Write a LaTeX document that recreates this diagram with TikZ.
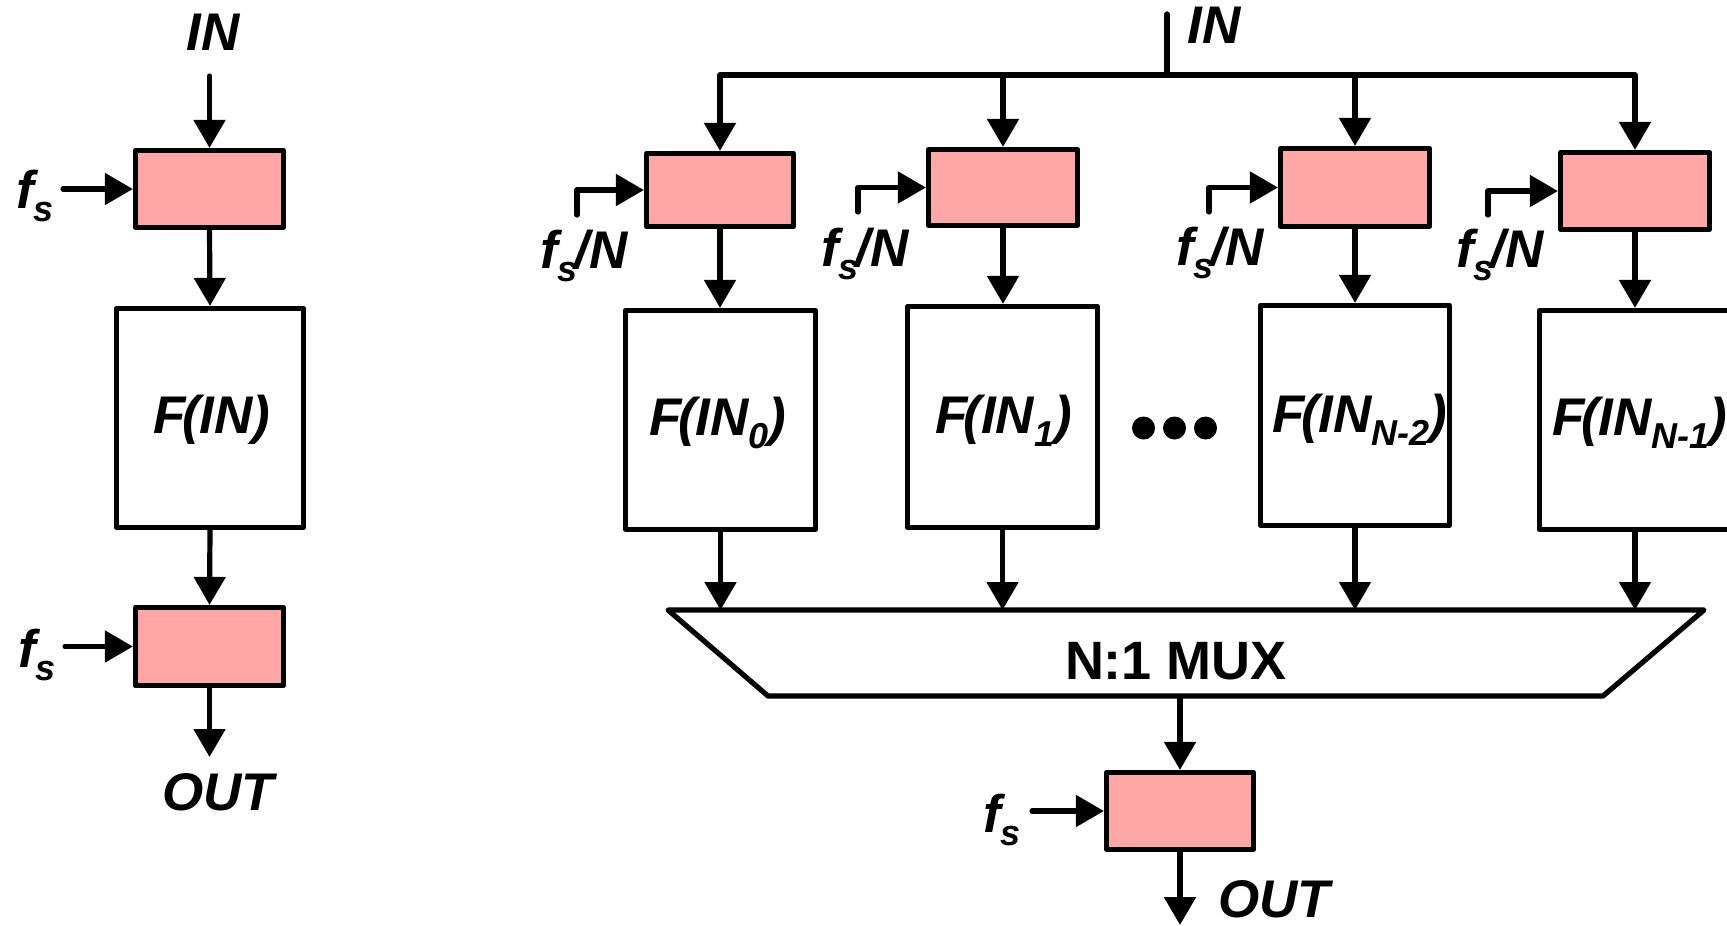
\documentclass[tikz,border=0pt]{standalone}
\usepackage{fontspec}
\setmainfont{Liberation Sans}
\usetikzlibrary{arrows.meta}
\definecolor{regpink}{RGB}{255,166,166}
\newcommand{\lowsub}[1]{{\fontsize{36}{36}\selectfont\raisebox{-13pt}{#1}}}
\begin{document}
\begin{tikzpicture}[x=1pt,y=-1pt,
  wire/.style={line width=5.2pt, line join=round, -{Triangle[length=28pt,width=31pt]}},
  plain/.style={line width=5.2pt, line cap=round, line join=round},
  reg/.style={draw, line width=5.2pt, fill=regpink, line join=round, inner sep=0pt},
  fbox/.style={draw, line width=5.2pt, fill=white, line join=round, inner sep=0pt},
  lbl/.style={inner sep=0pt, font=\fontsize{53}{60}\selectfont\bfseries\itshape},
]
\useasboundingbox (0,0) rectangle (1727,926);
% ---------- left: single path ----------
\node[reg, minimum width=148pt, minimum height=77pt] (rl1) at (209.5,189) {};
\node[fbox, minimum width=187.5pt, minimum height=219pt] (fl) at (210,418) {};
\node[reg, minimum width=148pt, minimum height=78pt] (rl2) at (209.5,646.5) {};
\node[lbl, anchor=base] (inL) at (213,50) {IN};
\coordinate (inLs) at (209.5,76);
\coordinate (fsl1) at (63,189);
\coordinate (fsl2) at (65,646.5);
\coordinate (outLe) at (209.5,757);
\node[lbl, anchor=base] (tfl) at (212,433) {F\kern-4pt(IN)};
\node[lbl, anchor=base west] (fsL1) at (16,208) {f\lowsub{s}};
\node[lbl, anchor=base west] (fsL2) at (18,667) {f\lowsub{s}};
\node[lbl, anchor=base] (outL) at (218,810) {OUT};
\draw[wire, line cap=round] (inLs) -- (rl1.north);
\draw[wire, line cap=round] (fsl1) -- (rl1.west);
\draw[wire] (rl1.south) -- (fl.north);
\draw[wire] (fl.south) -- (rl2.north);
\draw[wire, line cap=round] (fsl2) -- (rl2.west);
\draw[wire] (rl2.south) -- (outLe);
% ---------- right: parallel paths ----------
\node[reg, minimum width=147pt, minimum height=73pt] (r0) at (720,190) {};
\node[reg, minimum width=149pt, minimum height=76pt] (r1) at (1003,187.5) {};
\node[reg, minimum width=149pt, minimum height=78pt] (r2) at (1355,187.5) {};
\node[reg, minimum width=149pt, minimum height=77pt] (r3) at (1635,191) {};
\node[fbox, minimum width=190pt, minimum height=219pt] (f0) at (720.5,420) {};
\node[fbox, minimum width=190pt, minimum height=221pt] (f1) at (1002.5,417) {};
\node[fbox, minimum width=189pt, minimum height=220pt] (f2) at (1355,415.5) {};
\node[fbox, minimum width=191pt, minimum height=219pt] (f3) at (1635,420) {};
\node[reg, minimum width=147pt, minimum height=77pt] (rout) at (1180,811) {};
% IN bus
\coordinate (inTop) at (1167,14);
\coordinate (inJ) at (1167,75);
\node[lbl, anchor=base] (inR) at (1214,43) {IN};
\draw[plain] (inTop) -- (inJ);
\draw[wire] (inJ) -| (r0.north);
\draw[wire] (inJ) -| (r3.north);
\draw[wire] (r1.north |- inJ) -- (r1.north);
\draw[wire] (r2.north |- inJ) -- (r2.north);
% clocks fs/N
\coordinate (c0) at (577,215);
\coordinate (c1) at (858,212);
\coordinate (c2) at (1209,212);
\coordinate (c3) at (1488,215);
\draw[wire, line cap=round] (c0) |- (r0.west);
\draw[wire, line cap=round] (c1) |- (r1.west);
\draw[wire, line cap=round] (c2) |- (r2.west);
\draw[wire, line cap=round] (c3) |- (r3.west);
\node[lbl, anchor=base west] (fn0) at (540,268) {f\lowsub{s}\kern-3pt/N};
\node[lbl, anchor=base west] (fn1) at (821,266) {f\lowsub{s}\kern-3pt/N};
\node[lbl, anchor=base west] (fn2) at (1176,265) {f\lowsub{s}\kern-3pt/N};
\node[lbl, anchor=base west] (fn3) at (1456,267) {f\lowsub{s}\kern-3pt/N};
% register -> function
\draw[wire] (r0.south) -- (r0.south |- f0.north);
\draw[wire] (r1.south) -- (r1.south |- f1.north);
\draw[wire] (r2.south) -- (r2.south |- f2.north);
\draw[wire] (r3.south) -- (r3.south |- f3.north);
% function labels
\node[lbl, anchor=base] (tf0) at (718,435) {F\kern-4pt(IN\lowsub{0})};
\node[lbl, anchor=base] (tf1) at (1003.5,433) {F\kern-4pt(IN\lowsub{1})};
\node[lbl, anchor=base] (tf2) at (1360,432) {F\kern-4pt(IN\lowsub{N-2})};
\node[lbl, anchor=base] (tf3) at (1640,435) {F\kern-4pt(IN\lowsub{N-1})};
% dots
\fill (1143.5,428) circle (11.5);
\fill (1174.5,428) circle (11.5);
\fill (1205.5,428) circle (11.5);
% MUX
\coordinate (mTL) at (668,610);
\coordinate (mTR) at (1704,610);
\coordinate (mBR) at (1603,696);
\coordinate (mBL) at (768,696);
\draw[plain, fill=white] (mTL) -- (mTR) -- (mBR) -- (mBL) -- cycle;
\node[anchor=base, inner sep=0pt, font=\fontsize{54}{60}\selectfont\bfseries] (mux) at (1176,679) {N:1 MUX};
\draw[wire] (f0.south) -- (f0.south |- mTL);
\draw[wire] (f1.south) -- (f1.south |- mTL);
\draw[wire] (f2.south) -- (f2.south |- mTL);
\draw[wire] (f3.south) -- (f3.south |- mTL);
\draw[wire] (rout.north |- mBL) -- (rout.north);
% output register
\coordinate (fsr) at (1032,811);
\coordinate (outRe) at (1180,925);
\draw[wire, line cap=round] (fsr) -- (rout.west);
\draw[wire] (rout.south) -- (outRe);
\node[lbl, anchor=base west] (fsR) at (983,832) {f\lowsub{s}};
\node[lbl, anchor=base] (outR) at (1274,917) {OUT};
\end{tikzpicture}
\end{document}
